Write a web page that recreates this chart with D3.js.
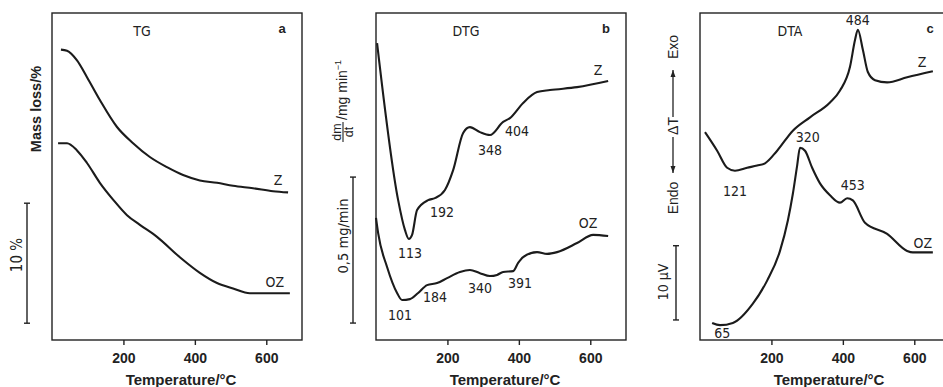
<!DOCTYPE html>
<html lang="en">
<head>
<meta charset="UTF-8">
<script src="https://d3js.org/d3.v7.min.js"></script>
<style>
  body { margin: 0; background: #fff; }
  .frame { fill: none; stroke: #222; stroke-width: 1.4px; }
  .curve { fill: none; stroke: #1b1b1b; stroke-width: 2.1px; stroke-linejoin: round; }
  .note { font-family: "Liberation Sans Narrow", "DejaVu Sans Condensed", "Liberation Sans", sans-serif; font-size: 14px; fill: #222; }
  .bold { font-family: "Liberation Sans", Arial, sans-serif; font-weight: bold; fill: #222; }
</style>
</head>
<body>
<svg id="chart" width="943" height="387"></svg>
<script>
// temperature ticks shared by all three panels
const tempTicks = [200, 400, 600];

// TG: mass (%), [temperature °C, value]
const tgZ = [[25,24.2],[42,24.1],[70,23.3],[98,21.9],[134,20.0],[182,17.75],[227,16.4],[274,15.25],
  [322,14.4],[367,13.75],[414,13.3],[462,13.1],[507,12.85],[563,12.65],[619,12.4],[661,12.3]];
const tgOZ = [[17,16.4],[42,16.4],[70,15.8],[98,14.75],[134,13.1],[171,11.7],[210,10.4],[246,9.6],
  [294,8.6],[358,6.9],[414,5.6],[462,4.75],[507,4.3],[554,3.9],[666,3.9]];

// DTG: dm/dt (mg/min, arbitrary offset)
const dtgZ = [[3,1.017],[62,0.479],[81,0.377],[92,0.346],[101,0.36],[115,0.445],[146,0.479],[165,0.486],
  [193,0.514],[216,0.582],[244,0.709],[263,0.729],[291,0.712],[319,0.702],[356,0.747],[375,0.760],
  [412,0.812],[451,0.849],[487,0.856],[563,0.866],[650,0.887]];
const dtgOZ = [[0,0.418],[6,0.366],[31,0.250],[59,0.161],[73,0.137],[95,0.140],[118,0.161],[143,0.188],
  [171,0.195],[199,0.212],[235,0.233],[263,0.240],[291,0.229],[319,0.219],[339,0.223],[356,0.233],
  [384,0.236],[398,0.264],[412,0.284],[451,0.301],[479,0.295],[507,0.301],[563,0.332],[608,0.360],[650,0.356]];

// DTA: ΔT (µV, arbitrary offset)
const dtaZ = [[14,28.0],[48,25.5],[76,23.2],[98,22.8],[132,23.2],[160,23.5],[182,23.8],[216,25.5],
  [260,28.2],[308,30.0],[364,32.0],[392,33.6],[420,36.8],[434,40.4],[442,41.8],[456,39.1],[470,36.1],
  [490,35.0],[524,34.7],[580,35.4],[652,36.2]];
const dtaOZ = [[34,2.3],[56,2.0],[92,2.3],[148,4.9],[188,8.0],[224,12.0],[246,16.1],[260,19.7],[272,23.5],
  [280,25.9],[294,25.5],[314,23.2],[336,21.1],[364,19.5],[392,18.5],[412,19.1],[428,18.8],[462,15.8],
  [524,14.3],[580,12.0],[596,11.8],[652,11.8]];

// peak labels: [text, temperature, value]
const tgLabels = [["Z",633,13.3],["OZ",624,4.8]];
const dtgLabels = [["113",95,0.298],["192",185,0.438],["348",319,0.651],["404",395,0.716],["Z",622,0.925],
  ["OZ",594,0.401],["101",67,0.086],["184",165,0.147],["340",291,0.178],["391",403,0.195]];
const dtaLabels = [["484",442,43.1],["Z",622,37.4],["121",98,20.1],["320",302,27.4],["453",428,20.9],
  ["OZ",624,13.1],["65",62,0.9]];

// scale bars: [from, to]
const tgBar = [1.4, 11.4];
const dtgBar = [0.058, 0.558];
const dtaBar = [2.7, 12.7];

const svg = d3.select("#chart");
const yTop = 13, yBottom = 340, pw = 250;

function panel(left, yMax, series, labels, title, letter, bar, barX) {
  const x = d3.scaleLinear().domain([0, 700]).range([left, left + pw]);
  const y = d3.scaleLinear().domain([0, yMax]).range([yBottom, yTop]);
  const g = svg.append("g");

  g.append("rect").attr("class", "frame")
    .attr("x", left).attr("y", yTop).attr("width", pw).attr("height", yBottom - yTop);

  const ax = g.append("g").attr("transform", `translate(0,${yBottom})`)
    .call(d3.axisBottom(x).tickValues(tempTicks).tickSize(5).tickPadding(8).tickSizeOuter(0));
  ax.select(".domain").remove();
  ax.selectAll("line").attr("stroke", "#222").attr("stroke-width", 1.4);
  ax.selectAll("text").attr("class", "bold").style("font-size", "14px");

  g.append("text").attr("class", "bold").style("font-size", "15px")
    .attr("x", left + pw / 2 + 4).attr("y", 385).attr("text-anchor", "middle")
    .text("Temperature/°C");

  const line = d3.line().x(d => x(d[0])).y(d => y(d[1])).curve(d3.curveMonotoneX);
  series.forEach(s => g.append("path").attr("class", "curve").attr("d", line(s)));

  g.selectAll(".lbl").data(labels).join("text")
    .attr("class", "note").attr("text-anchor", "middle").attr("dy", "0.36em")
    .attr("x", d => x(d[1])).attr("y", d => y(d[2])).text(d => d[0]);

  g.append("text").attr("class", "note").attr("text-anchor", "middle")
    .attr("x", left + 90).attr("y", 36).text(title);
  g.append("text").attr("class", "bold").style("font-size", "13px").attr("text-anchor", "middle")
    .attr("x", left + 230).attr("y", 33).text(letter);

  // scale bar
  g.append("line").attr("x1", barX).attr("x2", barX)
    .attr("y1", y(bar[0])).attr("y2", y(bar[1])).attr("stroke", "#222").attr("stroke-width", 1.4);
  bar.forEach(v => g.append("line").attr("x1", barX - 3).attr("x2", barX + 3)
    .attr("y1", y(v)).attr("y2", y(v)).attr("stroke", "#222").attr("stroke-width", 1.4));
  return { x, y };
}

panel(52, 27.25, [tgZ, tgOZ], tgLabels, "TG", "a", tgBar, 27);
panel(376, 1.12, [dtgZ, dtgOZ], dtgLabels, "DTG", "b", dtgBar, 353);
panel(700, 44.05, [dtaZ, dtaOZ], dtaLabels, "DTA", "c", dtaBar, 676);

function vtext(x, y, txt, cls, size) {
  return svg.append("text").attr("class", cls).style("font-size", size)
    .attr("text-anchor", "middle").attr("transform", `translate(${x},${y}) rotate(-90)`).text(txt);
}

// y labels
vtext(41, 109, "Mass loss/%", "bold", "14.5px");
vtext(22, 255, "10 %", "note", "15px");
vtext(348, 236, "0,5 mg/min", "note", "14.5px");
vtext(668, 282, "10 µV", "note", "14px");

// dm/dt /mg min-1
const fr = svg.append("g").attr("transform", "translate(343,132) rotate(-90)").attr("class", "bold");
fr.append("text").attr("text-anchor", "middle").attr("y", -2).style("font-size", "12.5px").style("font-weight", "normal").text("dm");
fr.append("text").attr("text-anchor", "middle").attr("y", 10).style("font-size", "12.5px").style("font-weight", "normal").text("dt");
fr.append("line").attr("x1", -10).attr("x2", 10).attr("stroke", "#222").attr("stroke-width", 1.1);
const un = fr.append("text").attr("x", 12).attr("y", 4).style("font-size", "14px").style("font-weight", "normal");
un.append("tspan").text("/mg min");
un.append("tspan").attr("dy", -6).style("font-size", "9px").text("−1");

// Endo ← ΔT → Exo
const ex = svg.append("g").attr("transform", "translate(673,0) rotate(-90)");
[["Endo", -198], ["ΔT", -126], ["Exo", -47]].forEach(d =>
  ex.append("text").attr("class", "bold").style("font-size", "14px").style("font-weight", "normal")
    .attr("x", d[1]).attr("y", 5).attr("text-anchor", "middle").text(d[0]));
[[-137, -173], [-117, -70]].forEach(d => {
  ex.append("line").attr("x1", d[0]).attr("x2", d[1]).attr("stroke", "#222").attr("stroke-width", 1.3);
  const s = Math.sign(d[1] - d[0]);
  ex.append("path").attr("fill", "#222")
    .attr("d", `M${d[1]},0 L${d[1] - s * 7},-2.5 L${d[1] - s * 7},2.5 Z`);
});
</script>
</body>
</html>
